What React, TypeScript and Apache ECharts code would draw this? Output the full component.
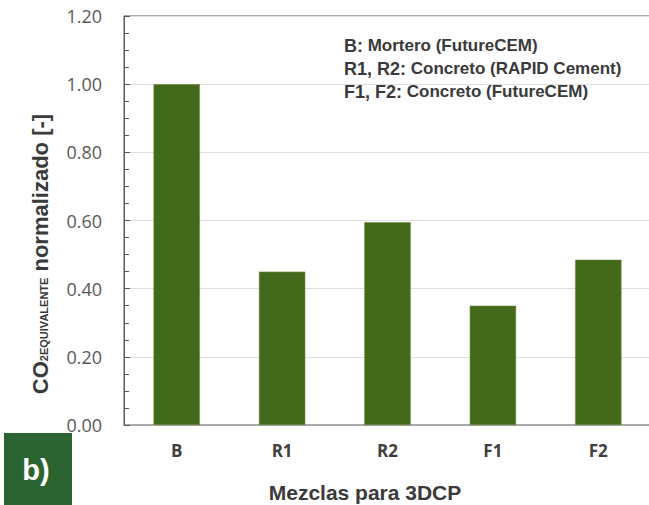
import React, { useEffect, useRef } from "react";
import * as echarts from "echarts";

const categories = ["B", "R1", "R2", "F1", "F2"];
const values = [1.0, 0.45, 0.595, 0.35, 0.485];
const yTicks = { min: 0, max: 1.2, interval: 0.2 };
const xAxisTitle = "Mezclas para 3DCP";
const noteLines = [
  ["B:", " Mortero (FutureCEM)"],
  ["R1, R2:", " Concreto (RAPID Cement)"],
  ["F1, F2:", " Concreto (FutureCEM)"],
];
const panelLabel = "b)";

export default function App() {
  const ref = useRef<HTMLDivElement>(null);
  useEffect(() => {
    if (!ref.current) return;
    const chart = echarts.init(ref.current, undefined, { renderer: "svg" });
    const noteText = noteLines.map((l) => `{a|${l[0]}}{b|${l[1]}}`).join("\n");
    chart.setOption({
      animation: false,
      backgroundColor: "#ffffff",
      grid: {
        left: 124,
        top: 16,
        width: 527,
        bottom: 80,
        outerBoundsMode: "none",
        containLabel: false,
        show: true,
        borderColor: "#595959",
        borderWidth: 1,
      },
      xAxis: {
        type: "category",
        data: categories,
        axisLine: { lineStyle: { color: "#a6a6a6", width: 1 } },
        axisTick: { show: false },
        axisLabel: {
          margin: 17,
          color: "#404040",
          fontFamily: "Open Sans",
          fontWeight: "bold",
          fontSize: 17,
        },
      },
      yAxis: {
        type: "value",
        min: yTicks.min,
        max: yTicks.max,
        interval: yTicks.interval,
        axisLine: { show: true, lineStyle: { color: "#595959", width: 1 } },
        axisTick: { show: true, inside: true, length: 6, lineStyle: { color: "#595959" } },
        minorTick: { show: true, splitNumber: 4, length: 5, lineStyle: { color: "#595959" } },
        splitLine: { show: true, lineStyle: { color: "#dedede", width: 1 } },
        axisLabel: {
          margin: 22,
          color: "#595959",
          fontFamily: "Open Sans",
          fontSize: 18,
          formatter: (v: number) => v.toFixed(2),
        },
      },
      series: [
        {
          type: "bar",
          data: values,
          barWidth: "44%",
          itemStyle: { color: "#436a1b", borderColor: "#6b8c45", borderWidth: 0.6 },
        },
      ],
      graphic: [
        {
          type: "text",
          x: 365,
          y: 492,
          style: {
            text: xAxisTitle,
            align: "center",
            verticalAlign: "middle",
            fontFamily: "Liberation Sans",
            fontWeight: "bold",
            fontSize: 21,
            fill: "#3a3a3a",
          },
        },
        {
          type: "text",
          x: 40,
          y: 254,
          rotation: Math.PI / 2,
          style: {
            text: "{co|CO}{sub|2EQUIVALENTE}{n| normalizado [-]}",
            align: "center",
            verticalAlign: "middle",
            rich: {
              co: { fontFamily: "Liberation Sans", fontWeight: "bold", fontSize: 22, fill: "#3a3a3a" },
              sub: {
                fontFamily: "Liberation Sans",
                fontWeight: "bold",
                fontSize: 11,
                fill: "#3a3a3a",
                padding: [8, 0, 0, 0],
              },
              n: { fontFamily: "Liberation Sans", fontWeight: "bold", fontSize: 22, fill: "#3a3a3a" },
            },
          },
        },
        {
          type: "text",
          x: 344,
          y: 34,
          style: {
            text: noteText,
            rich: {
              a: {
                fontFamily: "Liberation Sans",
                fontWeight: "bold",
                fontSize: 18,
                fill: "#3a3a3a",
                lineHeight: 23,
              },
              b: {
                fontFamily: "Liberation Sans",
                fontWeight: "bold",
                fontSize: 17,
                fill: "#3a3a3a",
                lineHeight: 23,
              },
            },
          },
        },
        {
          type: "rect",
          shape: { x: 4, y: 433, width: 68, height: 72 },
          style: { fill: "#2b6331" },
        },
        {
          type: "text",
          x: 36,
          y: 470,
          style: {
            text: panelLabel,
            align: "center",
            verticalAlign: "middle",
            fontFamily: "Liberation Sans",
            fontWeight: "bold",
            fontSize: 29,
            fill: "#ffffff",
          },
        },
      ],
    });
    return () => chart.dispose();
  }, []);
  return <div ref={ref} style={{ width: 649, height: 505, position: "absolute", left: 0, top: 0 }} />;
}
